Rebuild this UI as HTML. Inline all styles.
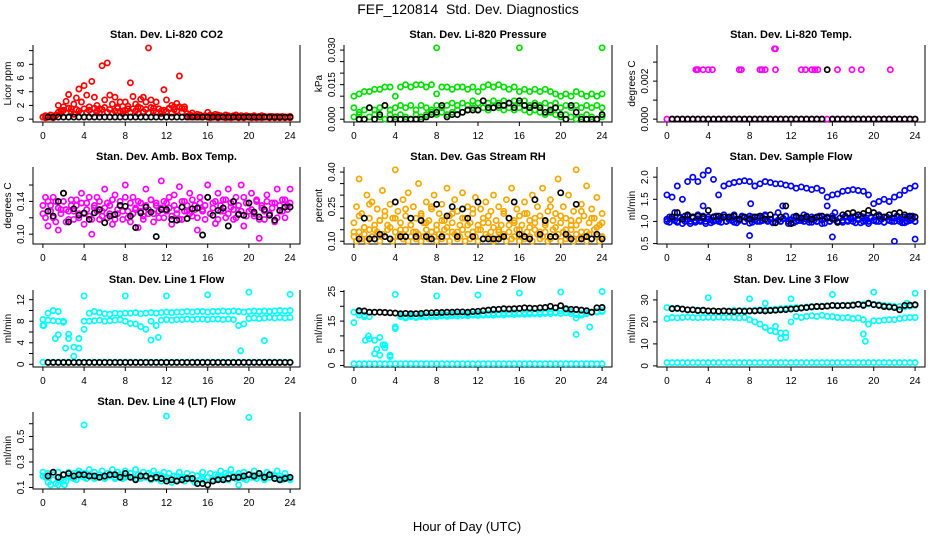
<!DOCTYPE html>
<html><head><meta charset="utf-8"><style>
html,body{margin:0;padding:0;background:#fff;}
svg{display:block;font-family:"Liberation Sans",Arial,sans-serif;}
</style></head><body>
<svg id="chart" width="936" height="540" viewBox="0 0 936 540">
<text x="468" y="14" text-anchor="middle" font-size="14" style="white-space:pre">FEF_120814  Std. Dev. Diagnostics</text>
<text x="467" y="531" text-anchor="middle" font-size="13">Hour of Day (UTC)</text>
</svg>
<script>
// ---- data ----
const xTicks=[0,4,8,12,16,20,24];
const co2A=[0.3,0.5,0.4,0.6,0.3,0.5,2.0,1.2,1.8,2.6,3.6,1.5,2.2,3.1,4.4,2.5,4.9,3.5,1.8,5.5,3.2,2.0,1.5,7.8,2.8,8.2,3.5,2.2,3.2,1.8,2.5,1.2,2.5,1.5,5.3,3.3,2.2,1.8,2.9,3.2,2.5,10.4,2.8,1.6,2.5,1.5,1.2,4.3,2.8,1.5,2.0,1.8,2.3,6.3,1.6,1.8,0.8,0.6,0.9,0.5,0.7,0.6,0.4,0.5,1.0,0.6,0.5,0.7,0.6,0.5,0.4,0.6,0.5,0.4,0.5,0.6,0.4,0.5,0.4,0.5,0.4,0.4,0.5,0.3,0.4,0.5,0.4,0.3,0.4,0.4,0.3,0.4,0.3,0.4,0.3,0.3,0.4];
const co2B=[0.3,0.2,0.4,0.3,0.2,0.6,1.0,0.8,1.3,0.9,1.6,1.1,0.7,1.4,1.2,0.9,1.5,1.0,1.3,0.8,1.6,1.2,0.9,1.4,1.7,1.0,1.4,0.9,1.2,1.6,1.1,0.8,1.3,1.9,1.0,1.5,1.2,0.8,1.6,1.1,1.4,0.9,1.7,1.2,1.0,1.5,0.8,1.3,1.1,1.6,0.9,1.4,1.2,1.8,1.0,1.5,0.4,0.3,0.5,0.3,0.4,0.3,0.3,0.4,0.3,0.2,0.3,0.3,0.2,0.3,0.3,0.2,0.3,0.2,0.3,0.3,0.2,0.3,0.2,0.3,0.3,0.2,0.3,0.2,0.3,0.2,0.3,0.3,0.2,0.3,0.2,0.3,0.2,0.3,0.2,0.3,0.2];
const co2Black=[0.3,0.3,0.3,0.3,0.3,0.3,0.3,0.3,0.3,0.3,0.3,0.3,0.3,0.3,0.3,0.3,0.3,0.3,0.3,0.3,0.3,0.3,0.3,0.3,0.3,0.3,0.3,0.3,0.3,0.3,0.3,0.3,0.3,0.3,0.3,0.3,0.3,0.3,0.3,0.3,0.3,0.3,0.3,0.3,0.3,0.3,0.3,0.3];
const presHigh=[0.010,0.011,0.012,0.012,0.013,0.013,0.014,0.014,0.010,0.014,0.015,0.014,0.015,0.015,0.014,0.015,0.011,0.014,0.014,0.013,0.014,0.014,0.013,0.014,0.012,0.014,0.015,0.014,0.015,0.014,0.013,0.014,0.012,0.013,0.012,0.013,0.012,0.013,0.012,0.011,0.010,0.011,0.010,0.012,0.011,0.010,0.011,0.010,0.011];
const presMid=[0.005,0.003,0.004,0.005,0.004,0.005,0.006,0.004,0.005,0.006,0.005,0.006,0.004,0.006,0.005,0.004,0.006,0.005,0.006,0.007,0.006,0.007,0.006,0.008,0.007,0.008,0.007,0.008,0.007,0.008,0.007,0.008,0.007,0.008,0.006,0.007,0.006,0.007,0.006,0.007,0.005,0.006,0.005,0.006,0.005,0.006,0.005,0.006,0.005];
const presLow=[0.001,0.002,0.000,0.001,0.002,0.001,0.000,0.002,0.001,0.002,0.001,0.000,0.002,0.001,0.002,0.003,0.002,0.003,0.002,0.003,0.004,0.003,0.004,0.005,0.004,0.005,0.004,0.005,0.005,0.004,0.005,0.004,0.005,0.004,0.003,0.004,0.003,0.002,0.003,0.002,0.001,0.002,0.001,0.000,0.001,0.002,0.001,0.000,0.001];
const presOutHours=[8,16,24];
const presOutVals=[0.031,0.031,0.031];
const presBlack=[0.000,0.000,0.005,0.000,0.002,0.006,0.000,0.000,0.000,0.000,0.000,0.000,0.000,0.001,0.002,0.003,0.006,0.001,0.002,0.002,0.003,0.004,0.004,0.004,0.008,0.005,0.005,0.006,0.006,0.007,0.005,0.008,0.006,0.005,0.006,0.005,0.003,0.004,0.005,0.002,0.000,0.006,0.003,0.000,0.000,0.000,0.000,0.002];
const tempZero=[0,0,0,0,0,0,0,0,0,0,0,0,0,0,0,0,0,0,0,0,0,0,0,0,0,0,0,0,0,0,0,0,0,0,0,0,0,0,0,0,0,0,0,0,0,0,0,0,0];
const tempHours=[2.8,2.9,3.0,3.5,4.0,4.4,7.0,7.2,9.0,9.2,9.5,10.5,13.0,13.4,14.0,14.3,14.6,16.5,17.9,18.8,21.6,10.4,10.5];
const tempVals=[0.0026,0.0026,0.0026,0.0026,0.0026,0.0026,0.0026,0.0026,0.0026,0.0026,0.0026,0.0026,0.0026,0.0026,0.0026,0.0026,0.0026,0.0026,0.0026,0.0026,0.0026,0.0037,0.0037];
const tempBlack=[0,0,0,0,0,0,0,0,0,0,0,0,0,0,0,0,0,0,0,0,0,0,0,0,0,0,0,0,0,0,0.0026,0,0,0,0,0,0,0,0,0,0,0,0,0,0,0,0,0];
const ambA=[0.125,0.145,0.110,0.135,0.120,0.140,0.105,0.130,0.150,0.115,0.128,0.142,0.118,0.135,0.125,0.150,0.112,0.138,0.122,0.100,0.132,0.145,0.118,0.128,0.155,0.120,0.135,0.112,0.148,0.125,0.140,0.118,0.160,0.128,0.115,0.145,0.130,0.108,0.138,0.122,0.155,0.125,0.142,0.115,0.135,0.128,0.165,0.120,0.138,0.132,0.112,0.148,0.125,0.158,0.118,0.140,0.128,0.150,0.122,0.135,0.105,0.145,0.130,0.118,0.160,0.125,0.138,0.113,0.150,0.128,0.142,0.120,0.155,0.133,0.118,0.145,0.125,0.160,0.110,0.138,0.128,0.150,0.122,0.140,0.095,0.132,0.118,0.148,0.125,0.138,0.115,0.155,0.128,0.142,0.120,0.135,0.155];
const ambB=[0.135,0.120,0.140,0.128,0.145,0.115,0.132,0.125,0.140,0.130,0.118,0.135,0.128,0.142,0.120,0.138,0.125,0.130,0.145,0.118,0.135,0.128,0.140,0.122,0.132,0.138,0.125,0.142,0.118,0.130,0.135,0.128,0.145,0.120,0.138,0.125,0.132,0.140,0.128,0.118,0.135,0.130,0.142,0.125,0.138,0.120,0.132,0.140,0.128,0.145,0.122,0.135,0.130,0.118,0.140,0.128,0.135,0.125,0.142,0.130,0.120,0.138,0.128,0.135,0.145,0.125,0.132,0.140,0.118,0.135,0.128,0.142,0.125,0.138,0.130,0.120,0.135,0.128,0.145,0.122,0.138,0.130,0.125,0.142,0.118,0.135,0.128,0.140,0.125,0.132,0.138,0.120,0.135,0.128,0.142,0.130,0.138];
const ambBlack=[0.128,0.122,0.140,0.150,0.115,0.131,0.123,0.126,0.118,0.126,0.130,0.114,0.122,0.124,0.135,0.134,0.122,0.108,0.126,0.133,0.127,0.097,0.130,0.130,0.118,0.117,0.133,0.119,0.131,0.132,0.099,0.145,0.123,0.129,0.132,0.110,0.140,0.124,0.123,0.138,0.127,0.121,0.130,0.123,0.117,0.129,0.133,0.133];
const rhLow=[0.12,0.10,0.14,0.11,0.13,0.10,0.15,0.12,0.11,0.14,0.10,0.13,0.12,0.15,0.11,0.10,0.14,0.12,0.13,0.11,0.15,0.10,0.12,0.14,0.11,0.13,0.10,0.12,0.15,0.11,0.14,0.12,0.10,0.13,0.11,0.15,0.12,0.10,0.14,0.13,0.11,0.12,0.15,0.10,0.13,0.11,0.14,0.12,0.10,0.15,0.11,0.13,0.12,0.14,0.10,0.11,0.15,0.12,0.13,0.10,0.14,0.11,0.12,0.15,0.10,0.13,0.11,0.14,0.12,0.10,0.15,0.13,0.11,0.12,0.14,0.10,0.11,0.15,0.12,0.13,0.10,0.14,0.11,0.12,0.15,0.10,0.13,0.11,0.14,0.12,0.10,0.13,0.11,0.15,0.12,0.10,0.12];
const rhMidA=[0.18,0.25,0.37,0.22,0.16,0.30,0.20,0.27,0.17,0.24,0.19,0.32,0.21,0.17,0.26,0.20,0.41,0.23,0.18,0.28,0.21,0.31,0.17,0.25,0.20,0.35,0.22,0.18,0.27,0.19,0.24,0.30,0.17,0.22,0.26,0.19,0.33,0.21,0.18,0.28,0.23,0.17,0.31,0.20,0.25,0.18,0.22,0.29,0.17,0.24,0.20,0.27,0.18,0.23,0.30,0.19,0.25,0.17,0.22,0.28,0.20,0.33,0.18,0.24,0.21,0.17,0.27,0.22,0.19,0.30,0.18,0.25,0.21,0.33,0.17,0.23,0.28,0.19,0.22,0.37,0.18,0.25,0.20,0.30,0.17,0.23,0.41,0.19,0.26,0.21,0.34,0.18,0.24,0.20,0.29,0.17,0.22];
const rhMidB=[0.14,0.21,0.16,0.26,0.15,0.19,0.23,0.16,0.20,0.15,0.24,0.17,0.14,0.21,0.18,0.25,0.15,0.19,0.16,0.22,0.14,0.20,0.17,0.24,0.15,0.18,0.21,0.16,0.14,0.23,0.17,0.19,0.15,0.22,0.16,0.20,0.14,0.18,0.25,0.16,0.21,0.15,0.19,0.17,0.23,0.14,0.20,0.16,0.18];
const rhBlack=[0.11,0.20,0.11,0.11,0.13,0.12,0.11,0.27,0.12,0.12,0.20,0.12,0.19,0.12,0.11,0.26,0.12,0.21,0.25,0.12,0.24,0.20,0.12,0.27,0.11,0.11,0.11,0.11,0.12,0.20,0.27,0.13,0.12,0.11,0.28,0.13,0.19,0.12,0.12,0.31,0.13,0.11,0.26,0.11,0.12,0.11,0.13,0.11];
const flowTop=[1.6,1.55,1.8,1.5,1.9,2.0,1.9,2.05,2.15,1.95,1.6,1.8,1.85,1.88,1.9,1.92,1.9,1.8,1.85,1.9,1.88,1.85,1.85,1.82,1.8,1.75,1.78,1.75,1.72,1.75,1.7,1.55,1.6,1.62,1.68,1.7,1.72,1.7,1.68,1.6,1.4,1.45,1.5,1.45,1.55,1.6,1.7,1.75,1.8];
const flowLowA=[1.0,1.1,1.05,1.2,0.98,1.1,1.05,1.0,1.12,0.95,1.08,1.02,1.15,1.0,1.06,0.95,1.1,1.03,1.0,1.12,1.05,0.98,1.1,1.0,1.08,1.02,1.15,0.97,1.05,1.1,1.0,1.06,1.12,0.98,1.04,1.1,1.0,1.08,1.15,1.02,1.05,0.97,1.1,1.2,1.0,1.06,1.12,0.95,1.04,1.1,1.0,1.08,1.02,1.15,1.05,0.98,1.1,1.03,1.0,1.12,0.95,1.06,1.1,1.0,1.05,1.2,0.98,1.08,1.02,1.12,1.0,1.06,1.1,0.97,1.05,1.12,1.0,1.08,0.95,1.1,1.03,1.0,1.15,1.05,0.98,1.1,1.02,1.08,1.0,1.12,1.05,0.97,1.1,1.0,1.06,1.12,1.0];
const flowLowB=[1.05,0.98,1.1,1.02,1.0,1.08,0.95,1.12,1.04,1.0,1.1,0.98,1.06,1.02,1.12,1.0,1.05,0.97,1.1,1.03,1.0,1.08,1.15,1.0,1.04,1.1,0.98,1.05,1.02,1.12,1.0,1.07,0.96,1.1,1.03,1.0,1.08,1.02,1.12,1.0,1.05,0.98,1.1,1.03,1.0,1.07,1.12,1.0,1.04,0.97,1.1,1.02,1.06,1.0,1.12,1.04,0.98,1.08,1.0,1.1,1.03,0.96,1.07,1.0,1.12,1.04,1.0,1.08,0.98,1.1,1.02,1.06,1.0,1.12,1.04,0.97,1.1,1.03,1.0,1.08,1.02,1.12,1.0,1.05,0.98,1.1,1.03,1.0,1.07,1.12,1.0,1.04,0.97,1.1,1.02,1.06,1.0];
const flowOutHours=[8,16,22,24,8.1,15.5,11.2,3.5];
const flowOutVals=[0.68,0.65,0.55,0.6,1.4,1.35,1.35,1.35];
const flowBlack=[1.1,1.2,1.05,1.15,1.1,1.12,1.1,1.25,1.1,1.12,1.1,1.1,1.12,1.05,1.1,1.05,1.1,1.12,1.05,1.15,0.97,1.1,1.35,0.95,1.12,1.08,1.1,1.05,1.1,1.12,1.08,1.07,0.98,1.15,1.18,1.2,1.15,1.18,1.25,1.2,1.12,1.1,1.15,1.18,1.2,1.15,1.12,1.1];
const l1Top=[7.2,9.5,10.0,9.8,8.0,5.6,3.2,4.8,6.5,9.5,9.8,9.6,9.4,9.3,9.5,9.4,9.5,9.5,9.6,9.4,9.5,9.6,9.5,9.6,9.7,9.6,9.7,9.7,9.8,9.7,9.8,9.8,9.7,9.8,9.8,9.9,9.8,9.9,9.8,9.7,9.8,9.9,9.8,9.9,9.8,9.9,10.0,9.9,10.0];
const l1Mid=[8.3,8.2,8.1,8.0,7.8,4.8,1.5,3.0,8.0,8.0,8.1,8.2,8.0,8.1,8.2,8.3,8.0,7.6,7.5,7.0,6.5,8.0,7.2,8.2,8.3,8.2,8.3,8.3,8.4,8.3,8.4,8.4,8.3,8.4,8.4,8.3,8.4,8.3,7.2,7.5,8.5,8.6,8.5,8.6,8.7,8.6,8.7,8.6,8.7];
const l1OutHours=[4,8,12,16,20,24,0.1,1.5,10.5,11.2,19.2,21.5,1.2,2.2];
const l1OutVals=[12.7,12.7,12.7,12.9,13.4,13.0,7.2,5.5,4.5,5.0,2.5,4.4,4.8,3.0];
const l1Zero=[0.4,0.4,0.4,0.4,0.4,0.4,0.4,0.4,0.4,0.4,0.4,0.4,0.4,0.4,0.4,0.4,0.4,0.4,0.4,0.4,0.4,0.4,0.4,0.4,0.4,0.4,0.4,0.4,0.4,0.4,0.4,0.4,0.4,0.4,0.4,0.4,0.4,0.4,0.4,0.4,0.4,0.4,0.4,0.4,0.4,0.4,0.4,0.4,0.4];
const l1Black=[0.35,0.35,0.35,0.35,0.35,0.35,0.35,0.35,0.35,0.35,0.35,0.35,0.35,0.35,0.35,0.35,0.35,0.35,0.35,0.35,0.35,0.35,0.35,0.35,0.35,0.35,0.35,0.35,0.35,0.35,0.35,0.35,0.35,0.35,0.35,0.35,0.35,0.35,0.35,0.35,0.35,0.35,0.35,0.35,0.35,0.35,0.35,0.35];
const l2Top=[14.5,18,17,16.5,8.5,9.5,6,3.5,12.5,17,16.5,17,16.5,17,16.8,17,17,17.2,17.1,17.2,17.3,17.2,17.4,17.3,17.5,17.4,17.5,17.6,17.5,17.7,17.6,17.8,17.7,17.8,17.9,17.8,18,17.9,18.1,18,18.5,18.8,18.2,16,17,17.5,18,18.2,18.5];
const l2Mid=[18,17,16.5,9,4,3.5,7,3,13,16.5,16,16.5,16.2,16.5,16.4,16.6,16.5,16.7,16.6,16.8,16.7,16.9,16.8,17,16.9,17,17.1,17,17.2,17.1,17.3,17.2,17.4,17.3,17.4,17.5,17.4,17.6,17.5,17.7,17.6,17.8,17.5,17.2,17.5,17.8,18,18,18.2];
const l2Zero=[0.6,0.6,0.6,0.6,0.6,0.6,0.6,0.6,0.6,0.6,0.6,0.6,0.6,0.6,0.6,0.6,0.6,0.6,0.6,0.6,0.6,0.6,0.6,0.6,0.6,0.6,0.6,0.6,0.6,0.6,0.6,0.6,0.6,0.6,0.6,0.6,0.6,0.6,0.6,0.6,0.6,0.6,0.6,0.6,0.6,0.6,0.6,0.6,0.6];
const l2OutHours=[4,8,12,16,20,24,21.5,22.8,1.4,2.8,1.1,2.2];
const l2OutVals=[24,23.5,23.8,24.5,24.8,25,10.5,13,10,7,8.5,5.5];
const l2Black=[18.5,18.4,18,18,18,17.9,17.8,17.7,17.5,17.6,17.5,17.5,17.6,17.8,17.8,17.9,17.9,18,18,18.1,18.1,18,18.2,18.3,18.5,18.7,18.9,19,19.2,19.1,19.2,19.3,19.5,19.4,19.3,19.5,19.6,20,19.5,20.2,19.2,19,18.9,18.7,18.5,18,19.5,19.6];
const l3Low=[21.5,22,21.8,22,22.2,22,21.9,22,22.1,22,22.2,22,22.1,22,21.8,22,21,20,19,17.5,16,18,15,13,20,22.5,22,22.5,22.8,22.5,23,22.5,22.4,22,21.8,22,21.5,21.8,21,19,20.5,20.5,20.8,21,21,21.5,21.8,22,22];
const l3High=[26.5,26.2,26,25.8,25.5,25.5,25.3,25.2,25,25,24.8,25,25,25.2,25,25.2,25,25.3,25.5,25.5,25.5,25.8,26,26.2,26.3,26.5,26.5,26.8,27,27,27.2,27.3,27.5,27.5,27.5,27.6,27.8,28,28,28.2,28,27.8,27.5,27.3,27,27,26.8,27.2,27.5];
const l3Zero=[1.5,1.5,1.5,1.5,1.5,1.5,1.5,1.5,1.5,1.5,1.5,1.5,1.5,1.5,1.5,1.5,1.5,1.5,1.5,1.5,1.5,1.5,1.5,1.5,1.5,1.5,1.5,1.5,1.5,1.5,1.5,1.5,1.5,1.5,1.5,1.5,1.5,1.5,1.5,1.5,1.5,1.5,1.5,1.5,1.5,1.5,1.5,1.5,1.5];
const l3OutHours=[4,8,12,16,20,24,19,19.2,9.5,11,23.2,10.5,11.5];
const l3OutVals=[31,30.5,30.5,32.5,33.5,33,14.5,11.2,28.5,12.5,28.5,15.5,15];
const l3Black=[26,26.2,25.8,25.5,25.5,25.2,25.3,25,25,24.8,25,24.8,24.7,25,24.8,25,25,25.2,25,25.2,25.3,25.5,25.6,25.8,26,26.3,26.5,26.8,27,27,27.2,27.5,27.3,27.5,27.4,27.6,28,27.5,28.5,27.8,27.5,27,26.8,26.5,25.5,27.5,27.6,27.8];
const l4A=[0.22,0.18,0.14,0.12,0.20,0.13,0.22,0.17,0.20,0.15,0.22,0.18,0.21,0.16,0.23,0.19,0.21,0.17,0.24,0.19,0.22,0.18,0.20,0.23,0.17,0.21,0.19,0.24,0.18,0.22,0.20,0.17,0.23,0.19,0.21,0.18,0.24,0.20,0.17,0.22,0.19,0.21,0.16,0.23,0.18,0.20,0.15,0.22,0.17,0.21,0.14,0.19,0.16,0.22,0.18,0.15,0.21,0.17,0.20,0.14,0.19,0.16,0.22,0.15,0.18,0.21,0.16,0.20,0.17,0.23,0.18,0.21,0.16,0.24,0.19,0.17,0.21,0.18,0.22,0.16,0.20,0.18,0.23,0.17,0.21,0.19,0.16,0.22,0.18,0.20,0.17,0.23,0.19,0.16,0.21,0.18,0.17];
const l4B=[0.19,0.21,0.16,0.18,0.15,0.19,0.17,0.21,0.18,0.19,0.17,0.20,0.18,0.19,0.17,0.20,0.18,0.21,0.17,0.19,0.18,0.20,0.17,0.19,0.18,0.16,0.19,0.17,0.18,0.16,0.19,0.17,0.18,0.16,0.19,0.17,0.20,0.18,0.19,0.17,0.20,0.18,0.19,0.17,0.18,0.19,0.17,0.18,0.16];
const l4OutHours=[4,12,20,1.5,2.1,19];
const l4OutVals=[0.59,0.66,0.65,0.12,0.12,0.12];
const l4Black=[0.19,0.22,0.18,0.20,0.21,0.19,0.20,0.20,0.19,0.19,0.18,0.19,0.20,0.20,0.18,0.21,0.18,0.16,0.19,0.19,0.17,0.18,0.17,0.15,0.16,0.15,0.16,0.17,0.17,0.13,0.13,0.12,0.15,0.16,0.16,0.17,0.18,0.18,0.19,0.20,0.19,0.21,0.18,0.20,0.17,0.16,0.17,0.18];

// ---- layout ----
const colLeft=[33,344,657];
const colWidth=[267,268,268];
const rowTop=[45,167,290,412];
const boxH=77;
const NS="http://www.w3.org/2000/svg";
const svg=document.getElementById('chart');
function mk(tag,attrs,parent){const e=document.createElementNS(NS,tag);for(const k in attrs)e.setAttribute(k,attrs[k]);(parent||svg).appendChild(e);return e;}
function even(n){const a=[];for(let i=0;i<n;i++)a.push(i*24/(n-1));return a;}
function half(n){const a=[];for(let i=0;i<n;i++)a.push(0.5+i*0.5);return a;}

const panels=[
 {key:'co2',title:'Stan. Dev. Li-820 CO2',ylab:'Licor ppm',r:0,c:0,lo:-0.42,hi:10.82,ticks:[0,2,4,6,8,10],labels:['0','2','4','6','8',''],col:'#ff0000',
  series:[[null,co2B],[null,co2A]],black:co2Black},
 {key:'pressure',title:'Stan. Dev. Li-820 Pressure',ylab:'kPa',r:0,c:1,lo:-0.0012,hi:0.0322,ticks:[0,0.005,0.010,0.015,0.020,0.025,0.030],labels:['0.000','','','0.015','','','0.030'],col:'#00e000',
  series:[[null,presLow],[null,presMid],[null,presHigh],[presOutHours,presOutVals]],black:presBlack},
 {key:'temp',title:'Stan. Dev. Li-820 Temp.',ylab:'degrees C',r:0,c:2,lo:-0.00015,hi:0.0039,ticks:[0,0.001,0.002,0.003],labels:['0.000','','0.002',''],col:'#ff00ff',
  series:[[null,tempZero],[tempHours,tempVals]],black:tempBlack},
 {key:'ambbox',title:'Stan. Dev. Amb. Box Temp.',ylab:'degrees C',r:1,c:0,lo:0.088,hi:0.182,ticks:[0.10,0.12,0.14,0.16],labels:['0.10','','0.14',''],col:'#ff00ff',
  series:[[null,ambB],[null,ambA]],black:ambBlack},
 {key:'rh',title:'Stan. Dev. Gas Stream RH',ylab:'percent',r:1,c:1,lo:0.088,hi:0.422,ticks:[0.10,0.15,0.20,0.25,0.30,0.35,0.40],labels:['0.10','','','0.25','','','0.40'],col:'#f5a800',
  series:[[null,rhMidB],[null,rhMidA],[null,rhLow]],black:rhBlack},
 {key:'sampleflow',title:'Stan. Dev. Sample Flow',ylab:'ml/min',r:1,c:2,lo:0.49,hi:2.23,ticks:[0.5,1.0,1.5,2.0],labels:['0.5','1.0','1.5','2.0'],col:'#0000ff',
  series:[[null,flowTop],[null,flowLowA],[null,flowLowB],[flowOutHours,flowOutVals]],black:flowBlack},
 {key:'line1',title:'Stan. Dev. Line 1 Flow',ylab:'ml/min',r:2,c:0,lo:-0.5,hi:13.8,ticks:[0,2,4,6,8,10,12],labels:['0','','4','','8','','12'],col:'#00ffff',
  series:[[null,l1Zero],[null,l1Mid],[null,l1Top],[l1OutHours,l1OutVals]],black:l1Black},
 {key:'line2',title:'Stan. Dev. Line 2 Flow',ylab:'ml/min',r:2,c:1,lo:-0.5,hi:25.5,ticks:[0,5,10,15,20,25],labels:['0','5','','15','','25'],col:'#00ffff',
  series:[[null,l2Zero],[null,l2Mid],[null,l2Top],[l2OutHours,l2OutVals]],black:l2Black},
 {key:'line3',title:'Stan. Dev. Line 3 Flow',ylab:'ml/min',r:2,c:2,lo:-0.5,hi:34.5,ticks:[0,10,20,30],labels:['0','10','20','30'],col:'#00ffff',
  series:[[null,l3Zero],[null,l3Low],[null,l3High],[l3OutHours,l3OutVals]],black:l3Black},
 {key:'line4',title:'Stan. Dev. Line 4 (LT) Flow',ylab:'ml/min',r:3,c:0,lo:0.088,hi:0.692,ticks:[0.1,0.2,0.3,0.4,0.5,0.6],labels:['0.1','','0.3','','0.5',''],col:'#00ffff',
  series:[[null,l4A],[null,l4B],[l4OutHours,l4OutVals]],black:l4Black}
];

panels.forEach(p=>{
  const L=colLeft[p.c],W=colWidth[p.c],T=rowTop[p.r],B=T+boxH;
  const xs=h=>L+(h+0.96)/25.92*W;
  const ys=v=>B-(v-p.lo)/(p.hi-p.lo)*boxH;
  const g=mk('g',{});
  
  
  const t=mk('text',{x:L+W/2,y:T-7,'text-anchor':'middle','font-size':11,'font-weight':'bold'},g);
  t.textContent=p.title;
  
  
  const fr=mk('path',{d:`M${L},${T}V${B}H${L+W}V${T}`,fill:'none',stroke:'#000','stroke-width':1},g);
  
  
  const pts=mk('g',{fill:'none','stroke-width':1.7},g);
  
  
  const drawSeries=(hrs,vals,color,name)=>{
    const hx=hrs||(vals.length===48?half(48):even(vals.length));
    vals.forEach((v,i)=>{
      const c=mk('circle',{cx:xs(hx[i]).toFixed(1),cy:ys(v).toFixed(1),r:2.6,stroke:color},pts);
      
      
    });
  };
  p.series.forEach(s=>drawSeries(s[0],s[1],p.col,p.key+'-point'));
  drawSeries(null,p.black,'#000',p.key+'-mean-point');
  xTicks.forEach(h=>{
    const x=xs(h);
    mk('line',{x1:x,x2:x,y1:B,y2:B+4,stroke:'#000'},g);
    const lt=mk('text',{x:x,y:B+17,'text-anchor':'middle','font-size':10},g);
    lt.textContent=h;
    
    
  });
  p.ticks.forEach((v,i)=>{
    const y=ys(v);
    mk('line',{x1:L-4,x2:L,y1:y,y2:y,stroke:'#000'},g);
    if(p.labels[i]){
      const lt=mk('text',{x:0,y:0,'text-anchor':'middle','font-size':10,transform:`translate(${L-9},${y}) rotate(-90)`},g);
      lt.textContent=p.labels[i];
      
      
    }
  });
  const yl=mk('text',{x:0,y:0,'text-anchor':'middle','font-size':10,transform:`translate(${L-22},${T+boxH/2}) rotate(-90)`},g);
  yl.textContent=p.ylab;
  
  
});
</script>
</body></html>
